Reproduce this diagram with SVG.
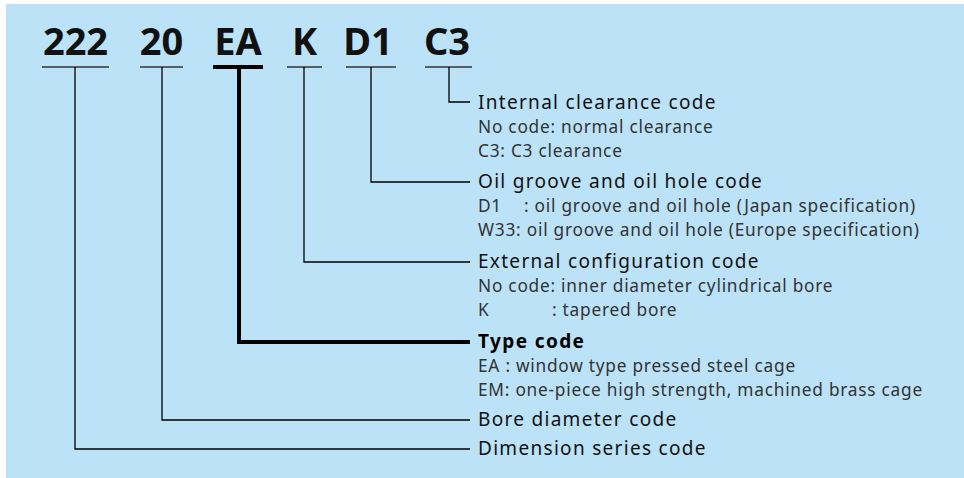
<svg xmlns="http://www.w3.org/2000/svg" width="964" height="478" viewBox="0 0 964 478">
<style>
.code{font-family:"Noto Sans","Noto Sans CJK JP",sans-serif;font-weight:700;font-size:38px;fill:#111;text-anchor:middle}
.h{font-family:"Noto Sans","Noto Sans CJK JP",sans-serif;font-size:19px;letter-spacing:1.3px;fill:#111}
.hb{font-family:"Noto Sans","Noto Sans CJK JP",sans-serif;font-size:19px;font-weight:700;letter-spacing:1.4px;fill:#000}
.s{font-family:"Noto Sans","Noto Sans CJK JP",sans-serif;font-size:17.3px;font-weight:400;letter-spacing:0.75px;fill:#333}
.ul{stroke:#333;stroke-width:1.3;fill:none}
.c{stroke:#000;stroke-width:1.3;fill:none}
.ct{stroke:#000;stroke-width:4;fill:none}
</style>
<rect x="6" y="4" width="958" height="474" fill="#bbe2f7"/>
<g id="codes">
<g id="code-222"><text class="code" x="75.5" y="55">222</text><line class="ul" x1="42" y1="67" x2="109" y2="67"/></g>
<g id="code-20"><text class="code" x="161.5" y="55">20</text><line class="ul" x1="140" y1="67" x2="183" y2="67"/></g>
<g id="code-EA"><text class="code" x="238" y="55">EA</text><line class="ct" x1="213" y1="67" x2="263" y2="67"/></g>
<g id="code-K"><text class="code" x="304.5" y="55">K</text><line class="ul" x1="287" y1="67" x2="322" y2="67"/></g>
<g id="code-D1"><text class="code" x="368" y="55">D1</text><line class="ul" x1="346" y1="67" x2="396" y2="67"/></g>
<g id="code-C3"><text class="code" x="447" y="55">C3</text><line class="ul" x1="425" y1="67" x2="472" y2="67"/></g>
</g>
<g id="connectors">
<path class="c" d="M449,67 V102 H470"/>
<path class="c" d="M371,67 V182 H470"/>
<path class="c" d="M304,67 V262 H470"/>
<path class="ct" d="M239,67 V342 H470"/>
<path class="c" d="M162,67 V420 H470"/>
<path class="c" d="M75,67 V449 H470"/>
</g>
<g id="internal-clearance">
<text class="h" x="478" y="109">Internal clearance code</text>
<text class="s" x="478" y="133">No code: normal clearance</text>
<text class="s" x="478" y="157">C3: C3 clearance</text>
</g>
<g id="oil-groove">
<text class="h" x="478" y="188">Oil groove and oil hole code</text>
<text class="s" y="212"><tspan x="478">D1</tspan><tspan x="524">: oil groove and oil hole (Japan specification)</tspan></text>
<text class="s" x="478" y="236">W33: oil groove and oil hole (Europe specification)</text>
</g>
<g id="external-config">
<text class="h" x="478" y="268">External configuration code</text>
<text class="s" x="478" y="292">No code: inner diameter cylindrical bore</text>
<text class="s" y="316"><tspan x="478">K</tspan><tspan x="552">: tapered bore</tspan></text>
</g>
<g id="type-code">
<text class="hb" x="478" y="348">Type code</text>
<text class="s" x="478" y="372">EA : window type pressed steel cage</text>
<text class="s" x="478" y="396">EM: one-piece high strength, machined brass cage</text>
</g>
<g id="bore-diameter">
<text class="h" x="478" y="426">Bore diameter code</text>
</g>
<g id="dimension-series">
<text class="h" x="478" y="455">Dimension series code</text>
</g>
</svg>
